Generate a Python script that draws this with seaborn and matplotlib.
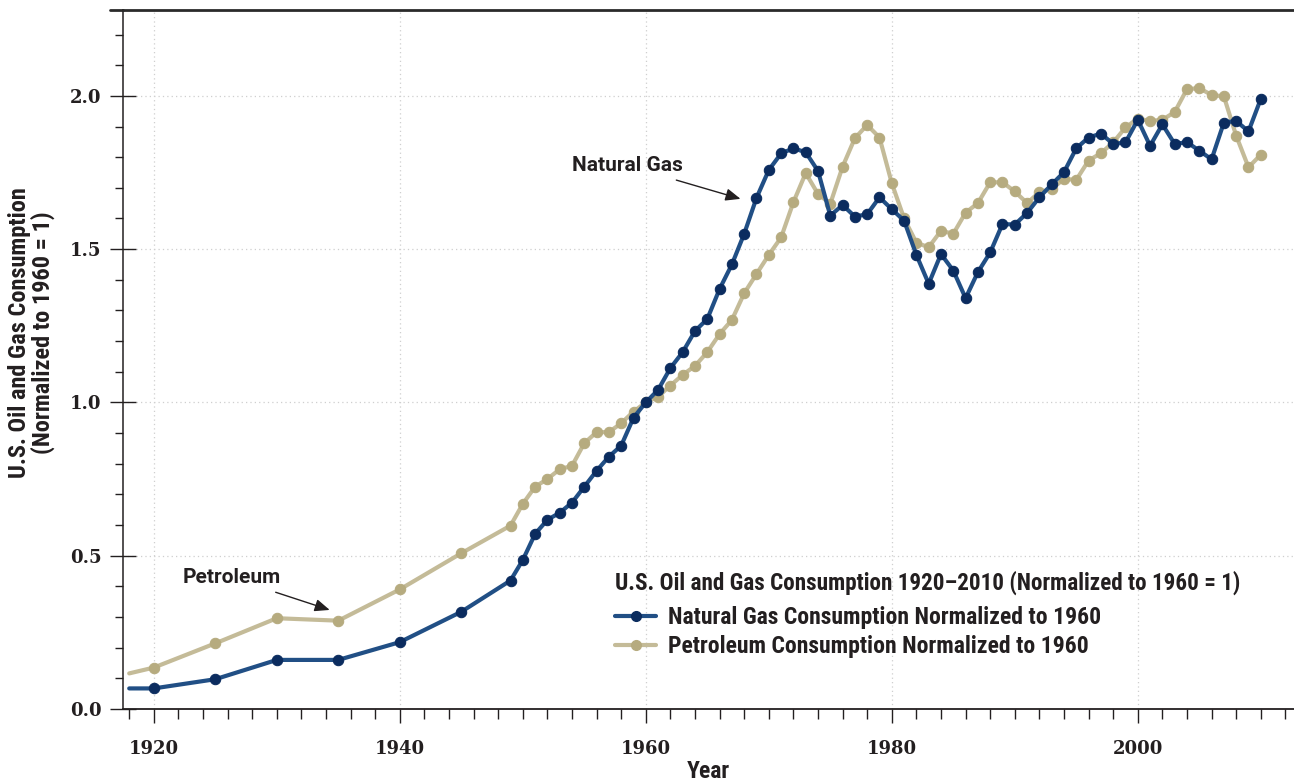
import matplotlib
matplotlib.use("Agg")
import matplotlib.pyplot as plt
import seaborn as sns
import pandas as pd
import os
from matplotlib.ticker import MultipleLocator
from matplotlib.lines import Line2D
from matplotlib import font_manager

# ---------------- data ----------------
years = [1918, 1920, 1925, 1930, 1935, 1940, 1945] + list(range(1949, 2011))

gas = [0.067, 0.067, 0.097, 0.160, 0.160, 0.218, 0.317,
       0.419, 0.486, 0.571, 0.617, 0.640, 0.673, 0.725, 0.777, 0.823, 0.859, 0.950,
       1.000, 1.041, 1.112, 1.164, 1.233, 1.272, 1.370, 1.450, 1.550, 1.667,
       1.758, 1.812, 1.829, 1.816, 1.755, 1.609, 1.644, 1.606, 1.614, 1.669,
       1.630, 1.593, 1.481, 1.387, 1.484, 1.430, 1.340, 1.425, 1.489, 1.582,
       1.580, 1.618, 1.669, 1.711, 1.751, 1.829, 1.864, 1.877, 1.843, 1.848,
       1.922, 1.837, 1.907, 1.843, 1.849, 1.821, 1.793, 1.913, 1.918, 1.884, 1.990]

petroleum = [0.116, 0.135, 0.214, 0.296, 0.288, 0.390, 0.508,
             0.598, 0.669, 0.725, 0.750, 0.782, 0.793, 0.867, 0.903, 0.903, 0.932, 0.970,
             1.000, 1.019, 1.055, 1.090, 1.119, 1.164, 1.223, 1.269, 1.356, 1.419,
             1.481, 1.538, 1.653, 1.748, 1.680, 1.648, 1.769, 1.862, 1.905, 1.864,
             1.715, 1.600, 1.521, 1.506, 1.560, 1.550, 1.619, 1.650, 1.718, 1.718,
             1.688, 1.650, 1.686, 1.696, 1.729, 1.726, 1.789, 1.813, 1.848, 1.897,
             1.926, 1.918, 1.922, 1.947, 2.022, 2.025, 2.003, 1.998, 1.870, 1.767, 1.808]

gas_label = "Natural Gas Consumption Normalized to 1960"
pet_label = "Petroleum Consumption Normalized to 1960"
legend_title = "U.S. Oil and Gas Consumption 1920\u20132010 (Normalized to 1960 = 1)"
ylabel = "U.S. Oil and Gas Consumption\n(Normalized to 1960 = 1)"
xlabel = "Year"
xticks = [1920, 1940, 1960, 1980, 2000]
yticks = [0.0, 0.5, 1.0, 1.5, 2.0]

df = pd.DataFrame({"Year": years, "gas": gas, "petroleum": petroleum})

# ---------------- style ----------------
sns.set_theme(style="white")
plt.rcParams["font.family"] = ["DejaVu Sans"]


def find_condensed_bold():
    cands = []
    for f in font_manager.fontManager.ttflist:
        fn = os.path.basename(f.fname).lower()
        nm = f.name.lower()
        key = fn + " " + nm
        if ("narrow" in key or "condensed" in key or "cond" in fn) and \
                (("bold" in fn) or (f.weight in ("bold", 700) or str(f.weight) == "700")):
            if "semi" in fn or "extra" in fn or "italic" in fn or "oblique" in fn:
                continue
            score = 0
            if "liberation" in key:
                score = 5
            elif "roboto" in key:
                score = 4
            elif "open" in key:
                score = 3
            elif "noto" in key:
                score = 2
            elif "dejavu" in key:
                score = 1
            cands.append((score, f.fname))
    if cands:
        cands.sort(reverse=True)
        return font_manager.FontProperties(fname=cands[0][1])
    return None


cond_fp = find_condensed_bold()


def cfont(size):
    if cond_fp is not None:
        fp = cond_fp.copy()
        fp.set_size(size)
        return fp
    avail = {f.name for f in font_manager.fontManager.ttflist}
    fam = "Roboto" if "Roboto" in avail else "DejaVu Sans"
    return font_manager.FontProperties(family=fam, weight="bold", size=size * 0.9)


avail_names = {f.name for f in font_manager.fontManager.ttflist}
ann_family = "Roboto" if "Roboto" in avail_names else "DejaVu Sans"

GAS_LINE = "#214f85"
GAS_MARK = "#0b2c5f"
PET_LINE = "#c4bb98"
PET_MARK = "#b6ab7f"
INK = "#231f20"

fig = plt.figure(figsize=(12.94, 7.82), dpi=100)
ax = fig.add_axes([0.0951, 0.0934, 1 - 0.0951, 0.9872 - 0.0934])

mev = list(range(1, len(years)))
sns.lineplot(data=df, x="Year", y="petroleum", ax=ax, color=PET_LINE, lw=3.0,
             marker="o", markersize=7.5, markerfacecolor=PET_MARK,
             markeredgecolor=PET_MARK, markevery=mev, zorder=3)
sns.lineplot(data=df, x="Year", y="gas", ax=ax, color=GAS_LINE, lw=3.0,
             marker="o", markersize=7.5, markerfacecolor=GAS_MARK,
             markeredgecolor=GAS_MARK, markevery=mev, zorder=4)

ax.set_xlim(1917.5, 2012.7)
ax.set_ylim(0, 2.28)

ax.set_xticks(xticks)
ax.set_yticks(yticks)
ax.set_xticklabels([str(t) for t in xticks])
ax.set_yticklabels([f"{t:.1f}" for t in yticks])
ax.xaxis.set_minor_locator(MultipleLocator(2))
ax.yaxis.set_minor_locator(MultipleLocator(0.1))

tick_fp = font_manager.FontProperties(family="DejaVu Serif", weight="bold", size=13)
for lab in ax.get_xticklabels() + ax.get_yticklabels():
    lab.set_fontproperties(tick_fp)
    lab.set_color(INK)

ax.tick_params(axis="x", which="major", direction="out", length=10, width=1.0,
               color=INK, pad=12, bottom=True)
ax.tick_params(axis="x", which="minor", direction="out", length=7.5, width=1.0,
               color=INK, bottom=True)
ax.tick_params(axis="y", which="major", direction="inout", length=19, width=1.0,
               color=INK, pad=6, left=True)
ax.tick_params(axis="y", which="minor", direction="out", length=6, width=1.0,
               color=INK, left=True)

ax.grid(True, which="major", axis="both", color="#cfcfcf", linestyle=(0, (1, 2.5)),
        linewidth=0.9)
ax.set_axisbelow(True)

ax.spines["right"].set_visible(False)
ax.spines["left"].set_color(INK)
ax.spines["bottom"].set_color(INK)
ax.spines["left"].set_linewidth(1.1)
ax.spines["bottom"].set_linewidth(1.3)
ax.spines["top"].set_color("#2a2a2a")
ax.spines["top"].set_linewidth(2.0)
ax.add_line(Line2D([-0.011, 0.0], [1.0, 1.0], transform=ax.transAxes,
                   color="#2a2a2a", lw=2.0, clip_on=False))

ax.set_ylabel(ylabel, linespacing=1.0, fontproperties=cfont(17.5), color=INK)
ax.yaxis.set_label_coords(-0.0580, 0.539)
ax.set_xlabel(xlabel, labelpad=2, fontproperties=cfont(17), color=INK)

# annotations
ann_font = dict(family=ann_family, weight="bold", size=15, color=INK)
ax.annotate("Natural Gas", xy=(1967.7, 1.664), xytext=(1963.0, 1.772),
            ha="right", va="center",
            arrowprops=dict(arrowstyle="-|>,head_length=0.6,head_width=0.25",
                            color=INK, lw=1.0, shrinkA=4, shrinkB=0),
            **ann_font)
ax.annotate("Petroleum", xy=(1934.3, 0.323), xytext=(1930.3, 0.428),
            ha="right", va="center",
            arrowprops=dict(arrowstyle="-|>,head_length=0.6,head_width=0.25",
                            color=INK, lw=1.0, shrinkA=4, shrinkB=0),
            **ann_font)

# legend
h_gas = Line2D([], [], color=GAS_LINE, lw=3.0, marker="o", markersize=7,
               markerfacecolor=GAS_MARK, markeredgecolor=GAS_MARK)
h_pet = Line2D([], [], color=PET_LINE, lw=3.0, marker="o", markersize=7,
               markerfacecolor=PET_MARK, markeredgecolor=PET_MARK)
leg = ax.legend([h_gas, h_pet], [gas_label, pet_label], title=legend_title,
                loc="upper left", bbox_to_anchor=(0.41, 0.215), frameon=False,
                borderpad=0, handlelength=1.75, handletextpad=0.5,
                labelspacing=0.25, prop=cfont(17), title_fontproperties=cfont(16.7))
leg.get_title().set_color(INK)
for t in leg.get_texts():
    t.set_color(INK)
leg._legend_box.align = "left"
leg._legend_box.sep = 8

fig.savefig("out.png", dpi=100)
